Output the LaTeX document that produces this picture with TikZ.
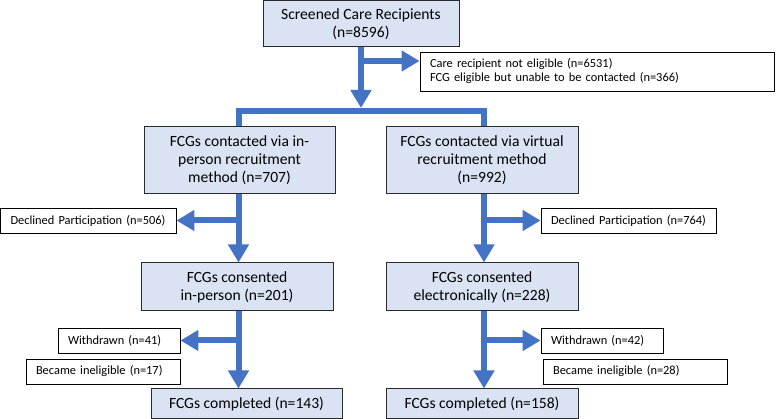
\documentclass[tikz,border=0pt]{standalone}
\usepackage{fontspec}
\setmainfont{Carlito}
\usetikzlibrary{arrows.meta}
\definecolor{arrowblue}{HTML}{4472C4}
\definecolor{boxblue}{HTML}{DAE3F3}
\definecolor{boxedge}{HTML}{2B2B2B}
\begin{document}
\begin{tikzpicture}[x=1pt,y=-1pt,
  bluebox/.style={draw=boxedge, fill=boxblue, line width=1pt, inner sep=0pt, align=center, font=\fontsize{15.6}{18}\selectfont},
  whitebox/.style={draw=black, fill=white, line width=0.9pt, inner xsep=10pt, inner ysep=0pt, minimum height=25pt, align=left, font=\fontsize{12.4}{14}\selectfont},
  flow/.style={draw=arrowblue, line width=6pt, line join=miter},
  flowarrow/.style={flow, -{Triangle[length=18pt,width=20pt]}},
]
\useasboundingbox (0,0) rectangle (779,419);

% blue boxes
\node[bluebox, minimum width=196pt, minimum height=46pt] (top) at (361,24) {Screened Care Recipients\\(n=8596)};
\node[bluebox, minimum width=191pt, minimum height=67pt] (lc) at (239.5,160.5) {FCGs contacted via in-\\person recruitment\\method (n=707)};
\node[bluebox, minimum width=192pt, minimum height=67pt] (rc) at (482,160.5) {FCGs contacted via virtual\\recruitment method\\(n=992)};
\node[bluebox, minimum width=192pt, minimum height=48pt] (csl) at (237,287) {FCGs consented\\in-person (n=201)};
\node[bluebox, minimum width=192pt, minimum height=48pt] (csr) at (482,287) {FCGs consented\\electronically (n=228)};
\node[bluebox, minimum width=191pt, minimum height=29.5pt] (cpl) at (246.5,403.75) {FCGs completed (n=143)};
\node[bluebox, minimum width=192pt, minimum height=29.5pt] (cpr) at (482,403.75) {FCGs completed (n=158)};

% white boxes
\node[whitebox, text width=334pt, minimum height=39pt] (side) at (597,71.5) {Care recipient not eligible (n=6531)\\FCG eligible but unable to be contacted (n=366)};
\node[whitebox, text width=155.5pt] (dl) at (88.25,220.5) {Declined Participation (n=506)};
\node[whitebox, text width=155pt] (dr) at (628.5,220.5) {Declined Participation (n=764)};
\node[whitebox, text width=102pt] (wl) at (119,340.5) {Withdrawn (n=41)};
\node[whitebox, text width=134pt] (il) at (103,371.5) {Became ineligible (n=17)};
\node[whitebox, text width=102pt] (wr) at (602,340.5) {Withdrawn (n=42)};
\node[whitebox, text width=164pt] (ir) at (635,371.5) {Became ineligible (n=28)};

% coordinates for the connector columns
\coordinate (mainend) at (361,108);
\coordinate (sidefork) at (361,61);
\coordinate (barL) at (239,111.5);
\coordinate (barR) at (484,111.5);
\coordinate (colL) at (238.5,0);
\coordinate (colR) at (484,0);

% connectors
\draw[flowarrow] (top.south) -- (mainend);
\draw[flowarrow] (sidefork) -- (sidefork -| side.west);
\draw[flow] (lc.north -| barL) -- (barL) -- (barR) -- (rc.north -| barR);

\draw[flowarrow] (lc.south -| colL) -- (csl.north -| colL);
\draw[flowarrow] (dl.east -| colL) -- (dl.east);
\draw[flowarrow] (rc.south -| colR) -- (csr.north -| colR);
\draw[flowarrow] (dr.west -| colR) -- (dr.west);

\draw[flowarrow] (csl.south -| colL) -- (cpl.north -| colL);
\draw[flowarrow] (wl.east -| colL) -- (wl.east);
\draw[flowarrow] (csr.south -| colR) -- (cpr.north -| colR);
\draw[flowarrow] (wr.west -| colR) -- (wr.west);
\end{tikzpicture}
\end{document}
